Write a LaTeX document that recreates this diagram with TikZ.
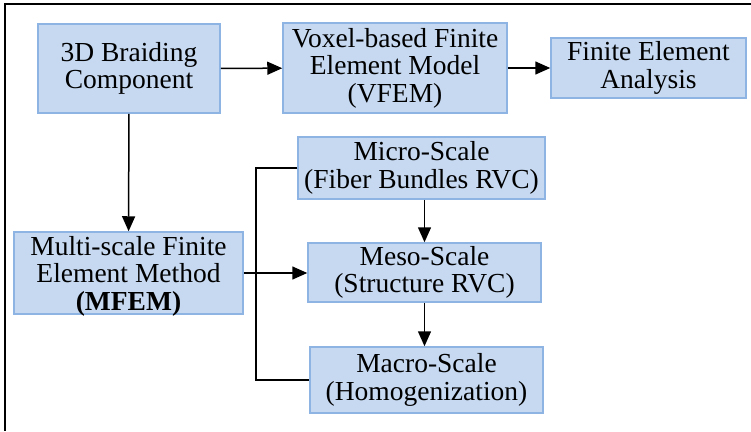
\documentclass[tikz,border=0pt]{standalone}
\usepackage{fontspec}
\setmainfont{Liberation Serif}
\newfontfamily\blockfont{Liberation Serif}
\usetikzlibrary{arrows.meta}
\definecolor{boxfill}{RGB}{198,217,241}
\definecolor{boxline}{RGB}{142,180,227}
\begin{document}
\begin{tikzpicture}[x=1pt,y=-1pt,
        every node/.style={font=\blockfont\fontsize{27.5}{27.5}\selectfont,align=center,inner sep=0pt},
        blockbox/.style={draw=boxline,fill=boxfill,line width=1.5pt},
        link/.style={line width=1.5pt,-{Triangle[length=15pt,width=13pt]}}]
        \useasboundingbox (0,0) rectangle (751,431);
        \draw[line width=2pt] (751,4) -- (5,4) -- (5,431);
        % top row
        \node[blockbox,minimum width=182pt,minimum height=89pt] (braid) at (129,68.5) {3D Braiding\\Component};
        \node[blockbox,minimum width=224pt,minimum height=90pt] (vfem) at (395,68) {Voxel-based Finite\\Element Model\\(VFEM)};
        \node[blockbox,minimum width=195pt,minimum height=60pt] (fea) at (648.5,68) {Finite Element\\Analysis};
        % multi-scale
        \node[blockbox,minimum width=229pt,minimum height=82pt] (mfem) at (128.5,273) {};
        \node (mfemtext) at (128.5,276) {Multi-scale Finite\\Element Method\\\textbf{(MFEM)}};
        \node[blockbox,minimum width=247pt,minimum height=62pt] (micro) at (421.5,168) {Micro-Scale\\(Fiber Bundles RVC)};
        \node[blockbox,minimum width=233pt,minimum height=59pt] (meso) at (424.5,272.5) {Meso-Scale\\(Structure RVC)};
        \node[blockbox,minimum width=233pt,minimum height=66pt] (macro) at (426.5,380) {Macro-Scale\\(Homogenization)};
        \coordinate (bus) at (256,273);
        % connectors
        \draw[link] (braid) -- (vfem);
        \draw[link] (vfem) -- (fea);
        \draw[link] (braid) -- (mfem);
        \draw[link] (mfem.east) -- (meso.west |- mfem.east);
        \draw[line width=1.5pt] (micro.west) -- (micro.west -| bus) -- (macro.west -| bus) -- (macro.west);
        \draw[link] (meso.north |- micro.south) -- (meso.north);
        \draw[link] (meso.south) -- (meso.south |- macro.north);
\end{tikzpicture}
\end{document}
